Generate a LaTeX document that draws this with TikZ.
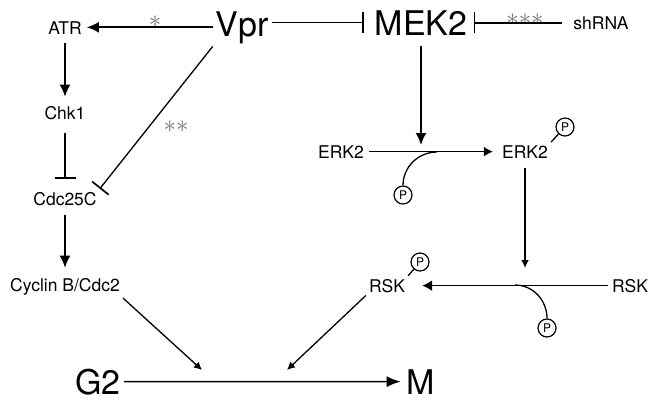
\documentclass[tikz,border=0pt]{standalone}
\usepackage{fontspec}
\setmainfont{TeX Gyre Heros}
\usetikzlibrary{arrows.meta}

\begin{document}
\begin{tikzpicture}
% Vpr and MEK2 signalling to the G2/M transition, drawn on a pixel grid
\def\pxsz{1pt}
\providecommand{\sigLineWidth}{1.7pt}
\providecommand{\sigThinWidth}{1.3pt}
\providecommand{\sigStarColor}{black!55}
\providecommand{\sigSmallFont}{\fontsize{17.5}{19}\selectfont}
\providecommand{\sigBigFont}{\fontsize{34}{38}\selectfont}
\providecommand{\sigStar}{\ensuremath{\ast}}
\begin{scope}[x=\pxsz, y=-\pxsz, line join=round,
  gene/.style={font=\sigSmallFont, inner sep=3pt, anchor=base},
  phase/.style={font=\sigBigFont, inner sep=2pt, anchor=base},
  star/.style={text=\sigStarColor, font=\fontsize{28}{28}\selectfont, inner sep=0pt},
  phos/.style={draw, circle, line width=1.2pt, minimum size=18pt, inner sep=0pt, font=\fontsize{12}{12}\selectfont},
  act/.style={-{Latex[length=12pt,width=11pt]}, line width=\sigLineWidth},
  actsmall/.style={-{Latex[length=8pt,width=8pt]}, line width=\sigThinWidth},
  inh/.style={-{Bar[width=21pt,line width=\sigLineWidth]}, line width=\sigLineWidth}]
  \useasboundingbox (0,0) rectangle (652,400);
  % Top row
  \node[phase] (vpr) at (242,36) {Vpr};
  \node[phase] (mek) at (421,35) {MEK2};
  \node[gene] (shrna) at (601,29) {shRNA};
  \node[gene] (atr) at (65,34) {ATR};
  % Left column
  \node[gene] (chk) at (65,119) {Chk1};
  \node[gene] (cdc) at (65,205) {Cdc25C};
  \node[gene] (cyc) at (65,291) {Cyclin B/Cdc2};
  % ERK2 and RSK
  \node[gene] (erkl) at (341,158) {ERK2};
  \node[gene] (erkr) at (525,158) {ERK2};
  \node[gene] (rskl) at (387,292) {RSK};
  \node[gene] (rskr) at (630,292) {RSK};
  % Phosphate groups
  \node[phos] (perk) at (403,195) {P};
  \node[phos] (perkr) at (565,127) {P};
  \node[phos] (prsk) at (547,328) {P};
  \node[phos] (prskl) at (420,262) {P};
  % Cell cycle phases
  \node[phase] (gtwo) at (98,394) {G2};
  \node[phase] (mph) at (421,394) {M};
  % Asterisks
  \node[star] (sone) at (155,22) {\sigStar};
  \node[star] (stwo) at (176,127) {\sigStar\sigStar};
  \node[star] (sthree) at (525,20) {\sigStar\sigStar\sigStar};
  % Free ends on the through lines
  \coordinate (erkj) at (437,152);
  \coordinate (rskj) at (515,285);
  \coordinate (erkhit) at (525,268);
  \coordinate (cychit) at (202,370);
  \coordinate (rskhit) at (287,370);
  % Vpr branch
  \draw[act, shorten >=2pt] (vpr.west) -- (vpr.west -| atr.east);
  \draw[inh, shorten >=9pt, shorten <=1pt] (vpr.east |- mek.west) -- (mek.west);
  \draw[inh, shorten >=4pt, shorten <=8pt] (shrna.west) -- (shrna.west -| mek.east);
  \draw[inh, line width=\sigThinWidth, shorten <=1pt] (vpr.south west) -- (cdc.north east);
  % Checkpoint column
  \draw[act, shorten <=6pt, shorten >=6pt] (atr.south) -- (chk.north);
  \draw[inh, shorten <=10pt, shorten >=10pt] (chk.south) -- (cdc.north);
  \draw[act, shorten <=6pt, shorten >=7pt] (cdc.south) -- (cyc.north);
  % MEK2 cascade
  \draw[act, shorten <=9pt, shorten >=7pt] (mek.south) -- (mek.south |- erkj);
  \draw[-{Latex[length=9pt,width=10pt]}, line width=\sigLineWidth, shorten <=2pt, shorten >=6pt] (erkl.east) -- (erkr.west);
  \draw[line width=\sigThinWidth] (perk.north) to[out=90, in=180] (erkj);
  \draw[line width=\sigThinWidth] (erkr.north east) -- (perkr);
  \draw[actsmall, line width=\sigLineWidth, shorten <=7pt] (erkr.south) -- (erkhit);
  \draw[-{Latex[length=10pt,width=11pt]}, line width=\sigLineWidth, shorten <=1pt, shorten >=14pt] (rskr.west) -- (rskr.west -| rskl.east);
  \draw[line width=\sigThinWidth] (rskj) to[out=0, in=90] (prsk.north);
  \draw[line width=\sigThinWidth] (rskl.north east) -- (prskl);
  % Cell cycle
  \draw[-{Latex[length=14pt,width=11pt]}, line width=\sigLineWidth, shorten <=1pt, shorten >=4pt] (gtwo.east) -- (mph.west);
  \draw[actsmall] (cyc.south east) -- (cychit);
  \draw[actsmall] (rskl.south west) -- (rskhit);
\end{scope}
\end{tikzpicture}
\end{document}
